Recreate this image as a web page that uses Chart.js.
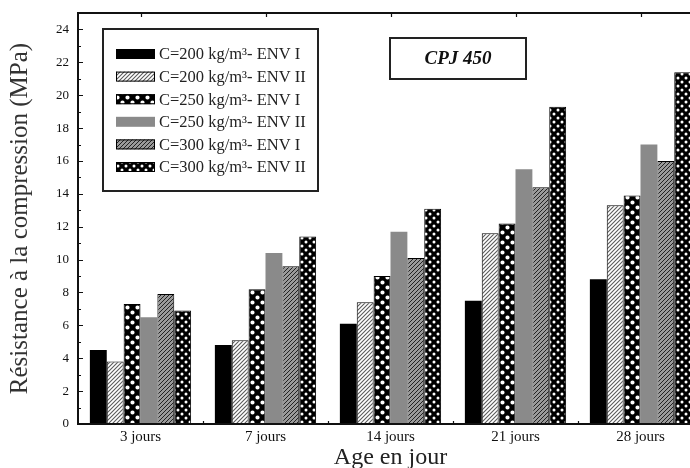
<!DOCTYPE html>
<html>
<head>
<meta charset="utf-8">
<script src="https://cdn.jsdelivr.net/npm/chart.js@4.4.0/dist/chart.umd.min.js"></script>
<style>
  html, body { margin: 0; padding: 0; background: #fff; overflow: hidden; }
  #wrap { width: 690px; height: 468px; overflow: hidden; }
</style>
</head>
<body>
<div id="wrap"><canvas id="resistanceChart" width="720" height="468"></canvas></div>
<script>
// Data (MPa)
const ages = ["3 jours", "7 jours", "14 jours", "21 jours", "28 jours"];
const c200EnvI = [4.5, 4.8, 6.1, 7.5, 8.8];
const c200EnvII = [3.8, 5.1, 7.4, 11.6, 13.3];
const c250EnvI = [7.3, 8.2, 9.0, 12.2, 13.9];
const c250EnvII = [6.5, 10.4, 11.7, 15.5, 17.0];
const c300EnvI = [7.9, 9.6, 10.1, 14.4, 16.0];
const c300EnvII = [6.9, 11.4, 13.1, 19.3, 21.4];
const seriesLabels = [
  "C=200 kg/m³- ENV I",
  "C=200 kg/m³- ENV II",
  "C=250 kg/m³- ENV I",
  "C=250 kg/m³- ENV II",
  "C=300 kg/m³- ENV I",
  "C=300 kg/m³- ENV II",
];
const yTicks = [0, 2, 4, 6, 8, 10, 12, 14, 16, 18, 20, 22, 24];
const cementLabel = "CPJ 450";

const SERIF = "'Liberation Serif', 'Times New Roman', serif";

// Function: build a small repeating tile as a fill pattern
function makePattern(size, draw) {
  const tile = document.createElement("canvas");
  tile.width = size;
  tile.height = size;
  const g = tile.getContext("2d");
  draw(g, size);
  return g.createPattern(tile, "repeat");
}

function hatch(bg, fg, size, width) {
  return makePattern(size, (g, s) => {
    g.fillStyle = bg;
    g.fillRect(0, 0, s, s);
    g.strokeStyle = fg;
    g.lineWidth = width;
    g.beginPath();
    g.moveTo(0, s); g.lineTo(s, 0);
    g.moveTo(-1, 1); g.lineTo(1, -1);
    g.moveTo(s - 1, s + 1); g.lineTo(s + 1, s - 1);
    g.stroke();
  });
}

function dots(size, r) {
  return makePattern(size, (g, s) => {
    g.fillStyle = "#000";
    g.fillRect(0, 0, s, s);
    g.fillStyle = "#fff";
    g.beginPath();
    g.arc(s / 4, s / 4, r, 0, Math.PI * 2);
    g.arc((3 * s) / 4, (3 * s) / 4, r, 0, Math.PI * 2);
    g.fill();
  });
}

const fills = [
  "#000",
  hatch("#fff", "#5a5a5a", 4, 1.1),
  dots(10, 2.1),
  "#8a8a8a",
  hatch("#9a9a9a", "#222", 4, 1),
  dots(8, 1.5),
];

const seriesValues = [c200EnvI, c200EnvII, c250EnvI, c250EnvII, c300EnvI, c300EnvII];

// Plugin: frame, inner ticks, legend box and cement label
const decorations = {
  id: "decorations",
  afterDraw(chart) {
    const ctx = chart.ctx;
    const area = chart.chartArea;
    const x = chart.scales.x;
    const y = chart.scales.y;
    ctx.save();

    // frame around plot area
    ctx.strokeStyle = "#111";
    ctx.lineWidth = 2;
    ctx.strokeRect(area.left, area.top, area.right - area.left, area.bottom - area.top);

    // y ticks pointing inward (major every 2, minor every 1)
    ctx.lineWidth = 1.2;
    ctx.beginPath();
    for (let v = 0; v <= 24; v++) {
      const py = Math.round(y.getPixelForValue(v)) + 0.5;
      const len = v % 2 === 0 ? 5 : 3;
      ctx.moveTo(area.left, py);
      ctx.lineTo(area.left + len, py);
    }
    // bottom ticks between groups, top ticks at group centres
    for (let i = 0; i < ages.length; i++) {
      const cx = x.getPixelForValue(i);
      const half = (x.getPixelForValue(1) - x.getPixelForValue(0)) / 2;
      const bx = Math.round(cx + half) + 0.5;
      ctx.moveTo(bx, area.bottom);
      ctx.lineTo(bx, area.bottom - 3);
      const tx = Math.round(cx) + 0.5;
      ctx.moveTo(tx, area.top);
      ctx.lineTo(tx, area.top + 4);
    }
    ctx.stroke();

    // legend box
    const lx = 103, ly = 29, lw = 215, lh = 162;
    ctx.fillStyle = "#fff";
    ctx.fillRect(lx, ly, lw, lh);
    ctx.lineWidth = 2;
    ctx.strokeStyle = "#222";
    ctx.strokeRect(lx, ly, lw, lh);
    ctx.font = "16.5px " + SERIF;
    ctx.textBaseline = "middle";
    ctx.textAlign = "left";
    chart.data.datasets.forEach((ds, i) => {
      const rowY = 54 + i * 22.6;
      ctx.fillStyle = ds.backgroundColor;
      ctx.fillRect(116, rowY - 5, 39, 10);
      if (ds.borderWidth) {
        ctx.lineWidth = 1;
        ctx.strokeStyle = "#000";
        ctx.strokeRect(116.5, rowY - 4.5, 38, 9);
      }
      ctx.fillStyle = "#222";
      ctx.fillText(ds.label, 159, rowY + 1);
    });

    // cement type box
    ctx.lineWidth = 2;
    ctx.strokeStyle = "#222";
    ctx.strokeRect(390, 38, 136, 41);
    ctx.fillStyle = "#111";
    ctx.font = "italic bold 19px " + SERIF;
    ctx.textAlign = "center";
    ctx.fillText(cementLabel, 458, 59);

    ctx.restore();
  },
};

const ctx = document.getElementById("resistanceChart").getContext("2d");

new Chart(ctx, {
  type: "bar",
  data: {
    labels: ages,
    datasets: seriesValues.map((vals, i) => ({
      label: seriesLabels[i],
      data: vals,
      backgroundColor: fills[i],
      borderColor: "#000",
      borderWidth: i === 0 || i === 3 ? 0 : 1,
      borderSkipped: false,
      barPercentage: 1,
      categoryPercentage: 0.81,
    })),
  },
  options: {
    responsive: false,
    animation: false,
    devicePixelRatio: 1,
    layout: { padding: { left: 0, right: 17, top: 13, bottom: 0 } },
    plugins: {
      legend: { display: false },
      tooltip: { enabled: false },
    },
    scales: {
      x: {
        grid: { display: false, drawTicks: false },
        border: { display: false },
        ticks: {
          color: "#111",
          padding: 4,
          maxRotation: 0,
          font: { family: SERIF, size: 15 },
        },
        title: {
          display: true,
          text: "Age en jour",
          color: "#222",
          padding: { top: 0, bottom: -4 },
          font: { family: SERIF, size: 24 },
        },
        afterFit: (scale) => {
          scale.height = 44;
          scale.paddingLeft = 0;
          scale.paddingRight = 0;
        },
      },
      y: {
        min: 0,
        max: 25,
        afterBuildTicks: (scale) => {
          scale.ticks = yTicks.map((v) => ({ value: v }));
        },
        grid: { display: false, drawTicks: false },
        border: { display: false },
        ticks: {
          color: "#111",
          padding: 9,
          font: { family: SERIF, size: 13 },
        },
        title: {
          display: true,
          text: "Résistance à la compression (MPa)",
          color: "#333",
          padding: { top: 5, bottom: 0 },
          font: { family: SERIF, size: 25 },
        },
        afterFit: (scale) => {
          scale.width = 78;
          scale.paddingTop = 0;
          scale.paddingBottom = 0;
        },
      },
    },
  },
  plugins: [decorations],
});
</script>
</body>
</html>
